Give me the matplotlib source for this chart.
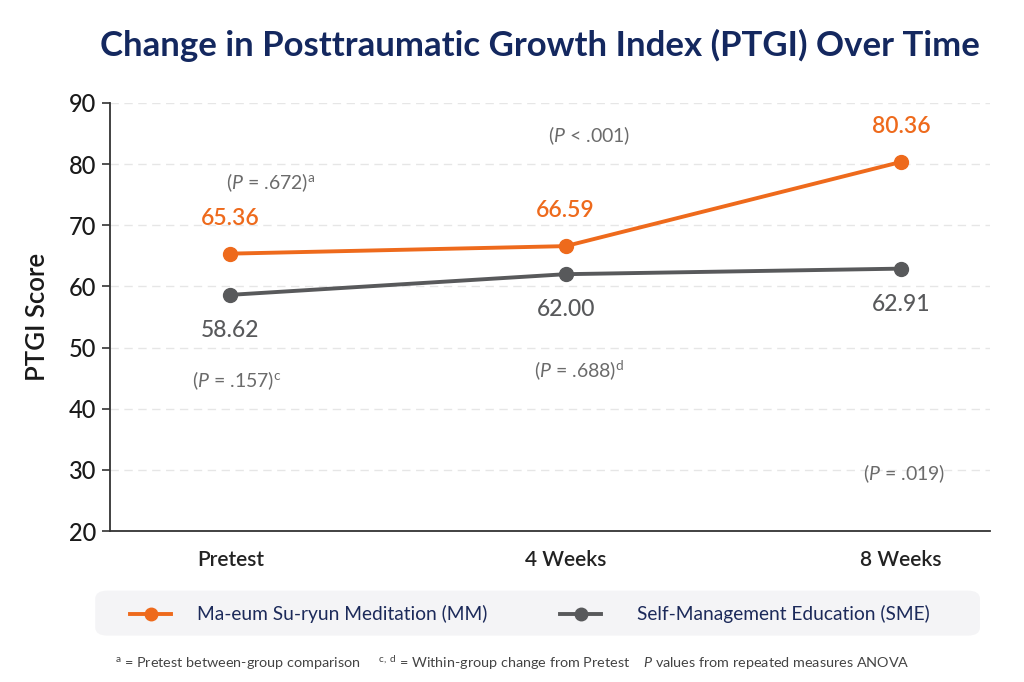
import matplotlib.pyplot as plt
from matplotlib.patches import FancyBboxPatch
from matplotlib.lines import Line2D

# data
timepoints = ["Pretest", "4 Weeks", "8 Weeks"]
mm_scores = [65.36, 66.59, 80.36]
sme_scores = [58.62, 62.00, 62.91]
mm_label = "Ma-eum Su-ryun Meditation (MM)"
sme_label = "Self-Management Education (SME)"
yticks = [20, 30, 40, 50, 60, 70, 80, 90]

# p-value notes: (x index, y value, text)
p_notes = [
    (0.12, 76.9, r"($\mathit{P}$ = .672)$^{\mathregular{a}}$"),
    (1.07, 84.6, r"($\mathit{P}$ < .001)"),
    (0.02, 44.6, r"($\mathit{P}$ = .157)$^{\mathregular{c}}$"),
    (1.04, 46.4, r"($\mathit{P}$ = .688)$^{\mathregular{d}}$"),
    (2.01, 29.4, r"($\mathit{P}$ = .019)"),
]

orange = "#ee6a1c"
gray = "#58595b"
navy = "#14285f"

plt.rcParams['font.family'] = ['Lato', 'DejaVu Sans']
plt.rcParams['mathtext.fontset'] = 'custom'
plt.rcParams['mathtext.rm'] = 'Lato'
plt.rcParams['mathtext.it'] = 'Lato:italic'

fig = plt.figure(figsize=(10.24, 6.82), dpi=100)
ax = fig.add_axes([0.107, 0.2214, 0.86, 0.6276])

x = list(range(len(timepoints)))
ax.plot(x, mm_scores, color=orange, lw=2.8, marker="o", ms=10, zorder=3)
ax.plot(x, sme_scores, color=gray, lw=2.8, marker="o", ms=10, zorder=3)

for xi, v in zip(x, mm_scores):
    ax.annotate(f"{v:.2f}", (xi, v), xytext=(0, 18), textcoords="offset points",
                ha="center", va="bottom", color=orange, fontsize=16.5, fontweight="semibold")
for xi, v in zip(x, sme_scores):
    ax.annotate(f"{v:.2f}", (xi, v), xytext=(0, -18), textcoords="offset points",
                ha="center", va="top", color=gray, fontsize=16.5, fontweight="medium")

for xn, yn, t in p_notes:
    ax.text(xn, yn, t, ha="center", va="center", color="#6b6b6b", fontsize=14)

ax.set_xlim(-0.36, 2.266)
ax.set_ylim(20, 90)
ax.set_yticks(yticks)
ax.set_xticks(x)
ax.set_xticklabels(timepoints, fontsize=15, fontweight="semibold", color="#222222")
ax.tick_params(axis="y", labelsize=17, length=6, width=1.2, color="#333333")
ax.tick_params(axis="x", length=0, pad=14)
for lab in ax.get_yticklabels():
    lab.set_color("#1a1a1a")
    lab.set_fontweight("medium")
ax.set_ylabel("PTGI Score", fontsize=18.5, fontweight="semibold", color="#1a1a1a", labelpad=14)

ax.grid(axis="y", color="#e6e6e6", linestyle=(0, (6, 4)), lw=1)
ax.set_axisbelow(True)
for s in ["top", "right"]:
    ax.spines[s].set_visible(False)
for s in ["left", "bottom"]:
    ax.spines[s].set_color("#333333")
    ax.spines[s].set_linewidth(1.3)

fig.text(0.527, 0.934, "Change in Posttraumatic Growth Index (PTGI) Over Time",
         ha="center", va="center", color=navy, fontsize=25, fontweight="bold")

# legend panel
box = FancyBboxPatch((0.093, 0.068), 0.864, 0.066,
                     boxstyle="round,pad=0,rounding_size=0.012",
                     transform=fig.transFigure, facecolor="#f4f4f6",
                     edgecolor="none", zorder=0)
fig.patches.append(box)
ly = 0.1
fig.add_artist(Line2D([0.127, 0.147, 0.167], [ly, ly, ly], color=orange, lw=2.8,
                      marker="o", markevery=[1], ms=9, transform=fig.transFigure))
fig.add_artist(Line2D([0.547, 0.567, 0.587], [ly, ly, ly], color=gray, lw=2.8,
                      marker="o", markevery=[1], ms=9, transform=fig.transFigure))
fig.text(0.192, ly, mm_label, ha="left", va="center", fontsize=13.8, color="#1c2a5a")
fig.text(0.622, ly, sme_label, ha="left", va="center", fontsize=13.8, color="#1c2a5a")

fig.text(0.5, 0.028,
         r"$^{\mathregular{a}}$ = Pretest between-group comparison     "
         r"$^{\mathregular{c,\ d}}$ = Within-group change from Pretest    "
         r"$\mathit{P}$ values from repeated measures ANOVA",
         ha="center", va="center", fontsize=10.4, color="#444444")

fig.savefig("out.png", dpi=100, facecolor="white")
